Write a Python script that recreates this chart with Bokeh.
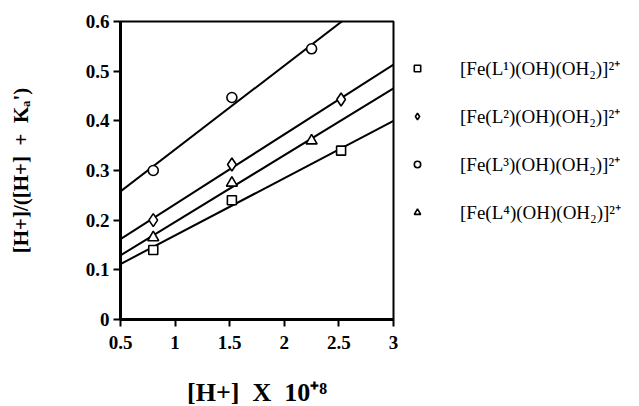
import numpy as np
from bokeh.plotting import figure
from bokeh.models import Legend, LegendItem, FixedTicker, Range1d
from bokeh.embed import file_html
from bokeh.resources import INLINE

# ---- data ----
x_L1 = [0.80, 1.52, 2.52]
y_L1 = [0.140, 0.240, 0.340]
x_L2 = [0.80, 1.52, 2.52]
y_L2 = [0.200, 0.312, 0.443]
x_L3 = [0.80, 1.52, 2.25]
y_L3 = [0.300, 0.447, 0.545]
x_L4 = [0.80, 1.52, 2.25]
y_L4 = [0.165, 0.275, 0.360]

labels = ["[Fe(L\u00b9)(OH)(OH\u2082)]\u00b2\u207a",
          "[Fe(L\u00b2)(OH)(OH\u2082)]\u00b2\u207a",
          "[Fe(L\u00b3)(OH)(OH\u2082)]\u00b2\u207a",
          "[Fe(L\u2074)(OH)(OH\u2082)]\u00b2\u207a"]
markers = ["square", "diamond", "circle", "triangle"]

x_ticks = [0.5, 1, 1.5, 2, 2.5, 3]
x_tick_labels = ["0.5", "1", "1.5", "2", "2.5", "3"]
y_ticks = [0, 0.1, 0.2, 0.3, 0.4, 0.5, 0.6]
y_tick_labels = ["0", "0.1", "0.2", "0.3", "0.4", "0.5", "0.6"]

X_MIN, X_MAX = 0.5, 3.0
Y_MIN, Y_MAX = 0.0, 0.6

SERIF = "Liberation Serif"

p = figure(frame_width=273, frame_height=298, output_backend="svg",
           toolbar_location=None, x_range=Range1d(X_MIN, X_MAX),
           y_range=Range1d(Y_MIN, Y_MAX),
           min_border_left=120, min_border_top=21, min_border_bottom=79,
           min_border_right=5)
p.grid.visible = False
p.outline_line_color = "black"
p.outline_line_width = 2
p.background_fill_color = "white"
p.border_fill_color = "white"

series = [(x_L1, y_L1), (x_L2, y_L2), (x_L3, y_L3), (x_L4, y_L4)]
sizes = [9, 13, 10, 11]
items = []
for (xs, ys), mk, lab, sz in zip(series, markers, labels, sizes):
    slope, icpt = np.polyfit(xs, ys, 1)
    lx = [X_MIN, X_MAX]
    p.line(lx, [icpt + slope * v for v in lx], line_color="black", line_width=2)
    r = p.scatter(xs, ys, marker=mk, size=sz, fill_color="white",
                  line_color="black", line_width=1.6)
    items.append(LegendItem(label=lab, renderers=[r]))

legend = Legend(items=items, location="top_left")
legend.border_line_color = None
legend.background_fill_alpha = 0
legend.label_text_font = SERIF
legend.label_text_font_size = "19px"
legend.label_text_color = "black"
legend.glyph_width = 16
legend.glyph_height = 48
legend.label_height = 48
legend.spacing = 0
legend.label_standoff = 35
legend.padding = 0
legend.margin = 16
legend.title = " "
legend.title_text_font_size = "1px"
legend.title_standoff = 6
p.add_layout(legend, "right")

for ax in (p.xaxis[0], p.yaxis[0]):
    ax.major_label_text_font = SERIF
    ax.major_label_text_font_style = "bold"
    ax.major_label_text_font_size = "19px"
    ax.major_label_text_color = "black"
    ax.axis_line_width = 3
    ax.axis_line_color = "black"
    ax.major_tick_line_width = 2
    ax.major_tick_in = 0
    ax.major_tick_out = 7
    ax.minor_tick_line_color = None
    ax.axis_label_text_font = SERIF
    ax.axis_label_text_font_style = "bold"
    ax.axis_label_text_color = "black"

p.xaxis.ticker = FixedTicker(ticks=x_ticks)
p.xaxis.major_label_overrides = {t: l for t, l in zip(x_ticks, x_tick_labels)}
p.yaxis.ticker = FixedTicker(ticks=y_ticks)
p.yaxis.major_label_overrides = {t: l for t, l in zip(y_ticks, y_tick_labels)}
p.xaxis.major_label_standoff = 9
p.yaxis.major_label_standoff = 4

p.xaxis.axis_label = "[H+]\u2002X\u200210\u207a\u2078"
p.xaxis.axis_label_text_font_size = "26px"
p.xaxis.axis_label_standoff = 26
p.yaxis.axis_label = "[H+]/([H+]\u2002+\u2002K\u2090')"
p.yaxis.axis_label_text_font_size = "21px"
p.yaxis.axis_label_standoff = 50

open("out.html", "w").write(file_html(p, INLINE))
